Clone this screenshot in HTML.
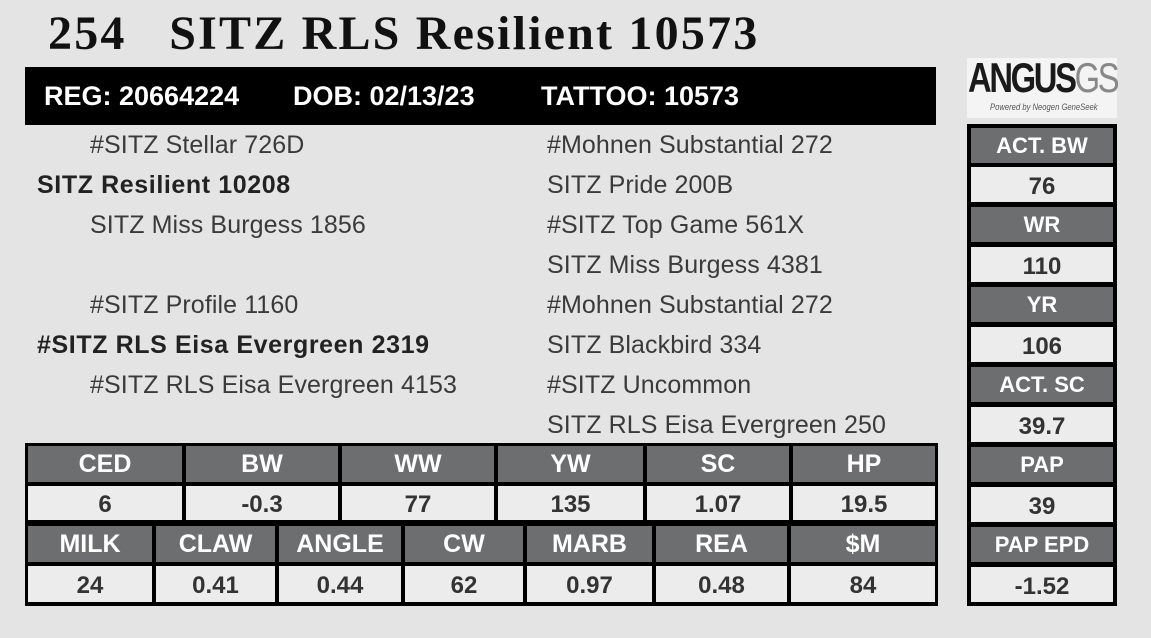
<!DOCTYPE html>
<html><head><meta charset="utf-8"><style>
*{margin:0;padding:0;box-sizing:border-box}
body{width:1151px;height:638px;overflow:hidden;background:#e4e4e4;position:relative;font-family:"Liberation Sans",sans-serif}
.a{position:absolute}
.t{position:absolute;font-size:48px;font-weight:bold;font-family:"Liberation Serif",serif;color:#111;left:48px;top:6px;white-space:pre;letter-spacing:2.2px}
.bar{left:25px;top:67px;width:911px;height:58px;background:#000}
.bar span{position:absolute;top:14px;color:#fff;font-weight:bold;font-size:27px}
.p{position:absolute;font-size:25px;color:#3a3a3a;white-space:nowrap;line-height:30px;letter-spacing:0.1px}
.b{font-weight:bold;color:#222;letter-spacing:0.6px}
.blk{background:#000}
.c{position:absolute;display:flex;align-items:center;justify-content:center;font-weight:bold}
.h{background:#6d6e70;color:#fff;font-size:25px}
.v{background:#ececec;color:#333;font-size:24px;padding-top:4px}
.rh{font-size:22px}
</style></head><body>
<div class="t">254   SITZ RLS Resilient 10573</div>
<div class="a bar"><span style="left:19px">REG: 20664224</span><span style="left:268px">DOB: 02/13/23</span><span style="left:516px">TATTOO: 10573</span></div>

<div class="p" style="left:90px;top:130px">#SITZ Stellar 726D</div>
<div class="p b" style="left:37px;top:170px">SITZ Resilient 10208</div>
<div class="p" style="left:90px;top:210px">SITZ Miss Burgess 1856</div>
<div class="p" style="left:90px;top:290px">#SITZ Profile 1160</div>
<div class="p b" style="left:37px;top:330px">#SITZ RLS Eisa Evergreen 2319</div>
<div class="p" style="left:90px;top:370px">#SITZ RLS Eisa Evergreen 4153</div>

<div class="p" style="left:547px;top:130px">#Mohnen Substantial 272</div>
<div class="p" style="left:547px;top:170px">SITZ Pride 200B</div>
<div class="p" style="left:547px;top:210px">#SITZ Top Game 561X</div>
<div class="p" style="left:547px;top:250px">SITZ Miss Burgess 4381</div>
<div class="p" style="left:547px;top:290px">#Mohnen Substantial 272</div>
<div class="p" style="left:547px;top:330px">SITZ Blackbird 334</div>
<div class="p" style="left:547px;top:370px">#SITZ Uncommon</div>
<div class="p" style="left:547px;top:410px">SITZ RLS Eisa Evergreen 250</div>

<div class="a blk" style="left:25px;top:443px;width:913px;height:163px"></div>
<div class="c h" style="left:28px;top:446px;width:154px;height:36px">CED</div>
<div class="c h" style="left:186px;top:446px;width:152px;height:36px">BW</div>
<div class="c h" style="left:342px;top:446px;width:152px;height:36px">WW</div>
<div class="c h" style="left:498px;top:446px;width:145px;height:36px">YW</div>
<div class="c h" style="left:647px;top:446px;width:142px;height:36px">SC</div>
<div class="c h" style="left:793px;top:446px;width:142px;height:36px">HP</div>
<div class="c v" style="left:28px;top:486px;width:154px;height:34px">6</div>
<div class="c v" style="left:186px;top:486px;width:152px;height:34px">-0.3</div>
<div class="c v" style="left:342px;top:486px;width:152px;height:34px">77</div>
<div class="c v" style="left:498px;top:486px;width:145px;height:34px">135</div>
<div class="c v" style="left:647px;top:486px;width:142px;height:34px">1.07</div>
<div class="c v" style="left:793px;top:486px;width:142px;height:34px">19.5</div>

<div class="c h" style="left:28px;top:526px;width:124px;height:36px">MILK</div>
<div class="c h" style="left:156px;top:526px;width:119px;height:36px">CLAW</div>
<div class="c h" style="left:279px;top:526px;width:122px;height:36px">ANGLE</div>
<div class="c h" style="left:405px;top:526px;width:118px;height:36px">CW</div>
<div class="c h" style="left:527px;top:526px;width:125px;height:36px">MARB</div>
<div class="c h" style="left:656px;top:526px;width:131px;height:36px">REA</div>
<div class="c h" style="left:791px;top:526px;width:144px;height:36px">$M</div>
<div class="c v" style="left:28px;top:566px;width:124px;height:36px">24</div>
<div class="c v" style="left:156px;top:566px;width:119px;height:36px">0.41</div>
<div class="c v" style="left:279px;top:566px;width:122px;height:36px">0.44</div>
<div class="c v" style="left:405px;top:566px;width:118px;height:36px">62</div>
<div class="c v" style="left:527px;top:566px;width:125px;height:36px">0.97</div>
<div class="c v" style="left:656px;top:566px;width:131px;height:36px">0.48</div>
<div class="c v" style="left:791px;top:566px;width:144px;height:36px">84</div>

<div class="a" style="left:967px;top:58px;width:150px;height:60px;background:#f4f4f4"></div>
<div class="a" style="left:968px;top:54px;font-size:42px;font-weight:bold;color:#1a1a1a;letter-spacing:-3px;transform:scaleX(0.78);transform-origin:left">ANGUS<span style="font-weight:normal;color:#888">GS</span></div>
<div class="a" style="left:990px;top:102px;font-size:9px;font-style:italic;color:#555;transform:scaleX(0.85);transform-origin:left">Powered by Neogen GeneSeek</div>

<div class="a blk" style="left:967px;top:124px;width:150px;height:482px"></div>
<div class="c h rh" style="left:971px;top:128px;width:142px;height:35px">ACT. BW</div>
<div class="c v" style="left:971px;top:167px;width:142px;height:35px">76</div>
<div class="c h rh" style="left:971px;top:207px;width:142px;height:35px">WR</div>
<div class="c v" style="left:971px;top:247px;width:142px;height:35px">110</div>
<div class="c h rh" style="left:971px;top:287px;width:142px;height:35px">YR</div>
<div class="c v" style="left:971px;top:327px;width:142px;height:35px">106</div>
<div class="c h rh" style="left:971px;top:367px;width:142px;height:35px">ACT. SC</div>
<div class="c v" style="left:971px;top:407px;width:142px;height:35px">39.7</div>
<div class="c h rh" style="left:971px;top:447px;width:142px;height:35px">PAP</div>
<div class="c v" style="left:971px;top:487px;width:142px;height:35px">39</div>
<div class="c h rh" style="left:971px;top:527px;width:142px;height:35px">PAP EPD</div>
<div class="c v" style="left:971px;top:567px;width:142px;height:35px">-1.52</div>
</body></html>
